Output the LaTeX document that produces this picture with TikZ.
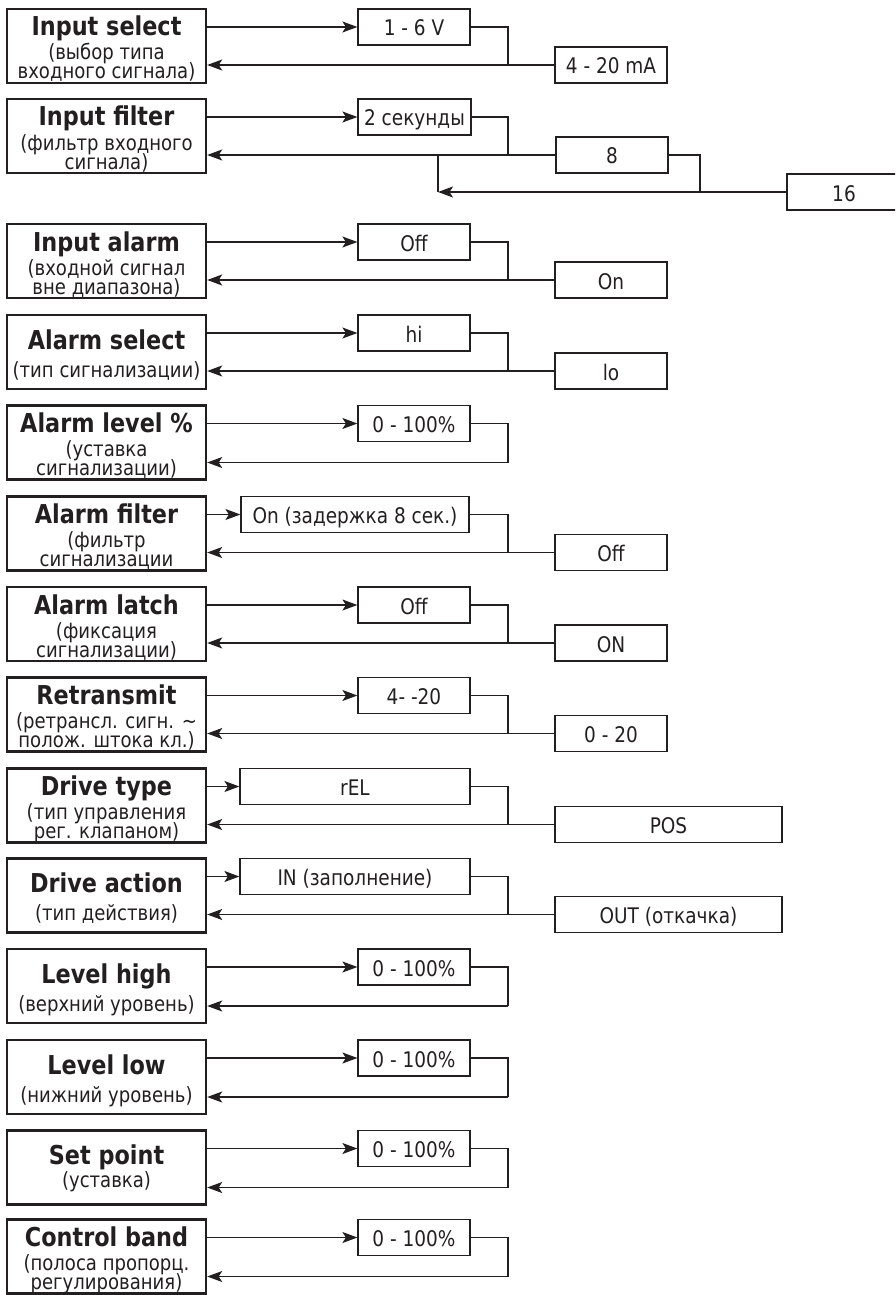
\documentclass[tikz,border=0pt]{standalone}
\usepackage{fontspec}
\setmainfont{DejaVu Sans}[FakeStretch=0.86]
\usetikzlibrary{arrows.meta}
\definecolor{ink}{RGB}{35,31,32}
\def\yA{9}\def\yB{99}\def\yC{224}\def\yD{315}\def\yE{405.5}\def\yF{496.5}\def\yG{587}
\def\yH{677.5}\def\yI{768.5}\def\yJ{858.5}\def\yK{949}\def\yL{1040}\def\yM{1130.5}\def\yN{1219.5}
\begin{document}
\begin{tikzpicture}[x=1pt,y=-1pt,
  lbox/.style={draw=ink,line width=2.4pt,rectangle,minimum width=199pt,minimum height=74pt,inner sep=0pt},
  obox/.style={draw=ink,line width=1.2pt,rectangle,minimum height=36pt,minimum width=112pt,inner sep=0pt,
    text height=18pt,text depth=0pt,text=ink,font=\fontsize{21.5}{22}\selectfont},
  ttl/.style={anchor=base,inner sep=0pt,text=ink,font=\fontsize{26}{27}\selectfont\bfseries},
  sub/.style={anchor=base,inner sep=0pt,text=ink,font=\fontsize{21}{22}\selectfont},
  conn/.style={draw=ink,line width=1.2pt},
  arr/.style={conn,-{Stealth[length=15pt,width=11pt,inset=3.5pt]}}]
\useasboundingbox (0,0) rectangle (895,1295);
\clip (0,0) rectangle (895,1295);

% ---------- Row 1: Input select
\node[lbox] (L1) at (106.5,\yA+37) {};
\node[ttl] (L1t) at (106.5,\yA+27) {Input select};
\node[sub] (L1a) at (106.5,\yA+51) {(выбор типа};
\node[sub] (L1b) at (106.5,\yA+70) {входного сигнала)};
\node[obox] (O1a) at (414,\yA+18) {1 - 6 V};
\node[obox] (O1b) at (611,\yA+56) {4 - 20 mA};
\coordinate (J1) at (508,\yA+56);
\draw[arr] (L1.east |- O1a.west) -- (O1a.west);
\draw[conn] (O1a.east) -| (J1);
\draw[arr] (O1b.west) -- (L1.east |- O1b.west);

% ---------- Row 2: Input filter
\node[lbox] (L2) at (106.5,\yB+37) {};
\node[ttl] (L2t) at (106.5,\yB+27) {Input filter};
\node[sub] (L2a) at (106.5,\yB+51) {(фильтр входного};
\node[sub] (L2b) at (106.5,\yB+70) {сигнала)};
\node[obox,minimum width=113pt] (O2a) at (414.5,\yB+18) {2 секунды};
\node[obox] (O2b) at (612,\yB+56) {8};
\node[obox,minimum width=114pt] (O2c) at (844,\yB+93) {16};
\coordinate (J2) at (508,\yB+56);
\coordinate (K2) at (700,\yB+93);
\coordinate (M2) at (438,\yB+93);
\coordinate (N2) at (438,\yB+56);
\draw[arr] (L2.east |- O2a.west) -- (O2a.west);
\draw[conn] (O2a.east) -| (J2);
\draw[arr] (O2b.west) -- (L2.east |- O2b.west);
\draw[conn] (O2b.east) -| (K2);
\draw[arr] (O2c.west) -- (M2);
\draw[conn] (N2) -- (M2);

% ---------- Row 3: Input alarm
\node[lbox] (L3) at (106.5,\yC+37) {};
\node[ttl] (L3t) at (106.5,\yC+27) {Input alarm};
\node[sub] (L3a) at (106.5,\yC+51) {(входной сигнал};
\node[sub] (L3b) at (106.5,\yC+70) {вне диапазона)};
\node[obox] (O3a) at (414,\yC+18) {Off};
\node[obox] (O3b) at (611,\yC+56) {On};
\coordinate (J3) at (508,\yC+56);
\draw[arr] (L3.east |- O3a.west) -- (O3a.west);
\draw[conn] (O3a.east) -| (J3);
\draw[arr] (O3b.west) -- (L3.east |- O3b.west);

% ---------- Row 4: Alarm select
\node[lbox] (L4) at (106.5,\yD+37) {};
\node[ttl] (L4t) at (106.5,\yD+34) {Alarm select};
\node[sub] (L4a) at (106.5,\yD+62) {(тип сигнализации)};
\node[obox] (O4a) at (414,\yD+18) {hi};
\node[obox] (O4b) at (611,\yD+56) {lo};
\coordinate (J4) at (508,\yD+56);
\draw[arr] (L4.east |- O4a.west) -- (O4a.west);
\draw[conn] (O4a.east) -| (J4);
\draw[arr] (O4b.west) -- (L4.east |- O4b.west);

% ---------- Row 5: Alarm level %
\node[lbox] (L5) at (106.5,\yE+37) {};
\node[ttl] (L5t) at (106.5,\yE+27) {Alarm level \%};
\node[sub] (L5a) at (106.5,\yE+51) {(уставка};
\node[sub] (L5b) at (106.5,\yE+70) {сигнализации)};
\node[obox] (O5a) at (414,\yE+18) {0 - 100\%};
\coordinate (J5) at (508,\yE+57);
\draw[arr] (L5.east |- O5a.west) -- (O5a.west);
\draw[conn] (O5a.east) -| (J5);
\draw[arr] (J5) -- (L5.east |- J5);

% ---------- Row 6: Alarm filter
\node[lbox] (L6) at (106.5,\yF+37) {};
\node[ttl] (L6t) at (106.5,\yF+27) {Alarm filter};
\node[sub] (L6a) at (106.5,\yF+51) {(фильтр};
\node[sub] (L6b) at (106.5,\yF+70) {сигнализации};
\node[obox,minimum width=228pt] (O6a) at (355,\yF+18) {On (задержка 8 сек.)};
\node[obox] (O6b) at (611,\yF+56) {Off};
\coordinate (J6) at (508,\yF+56);
\draw[arr] (L6.east |- O6a.west) -- (O6a.west);
\draw[conn] (O6a.east) -| (J6);
\draw[arr] (O6b.west) -- (L6.east |- O6b.west);

% ---------- Row 7: Alarm latch
\node[lbox] (L7) at (106.5,\yG+37) {};
\node[ttl] (L7t) at (106.5,\yG+27) {Alarm latch};
\node[sub] (L7a) at (106.5,\yG+51) {(фиксация};
\node[sub] (L7b) at (106.5,\yG+70) {сигнализации)};
\node[obox] (O7a) at (414,\yG+18) {Off};
\node[obox] (O7b) at (611,\yG+56) {ON};
\coordinate (J7) at (508,\yG+56);
\draw[arr] (L7.east |- O7a.west) -- (O7a.west);
\draw[conn] (O7a.east) -| (J7);
\draw[arr] (O7b.west) -- (L7.east |- O7b.west);

% ---------- Row 8: Retransmit
\node[lbox] (L8) at (106.5,\yH+37) {};
\node[ttl] (L8t) at (106.5,\yH+27) {Retransmit};
\node[sub] (L8a) at (106.5,\yH+51) {(ретрансл. сигн. \textasciitilde};
\node[sub] (L8b) at (106.5,\yH+70) {полож. штока кл.)};
\node[obox] (O8a) at (414,\yH+18) {4- -20};
\node[obox] (O8b) at (611,\yH+56) {0 - 20};
\coordinate (J8) at (508,\yH+56);
\draw[arr] (L8.east |- O8a.west) -- (O8a.west);
\draw[conn] (O8a.east) -| (J8);
\draw[arr] (O8b.west) -- (L8.east |- O8b.west);

% ---------- Row 9: Drive type
\node[lbox] (L9) at (106.5,\yI+37) {};
\node[ttl] (L9t) at (106.5,\yI+27) {Drive type};
\node[sub] (L9a) at (106.5,\yI+51) {(тип управления};
\node[sub] (L9b) at (106.5,\yI+70) {рег. клапаном)};
\node[obox,minimum width=230pt] (O9a) at (355,\yI+18) {rEL};
\node[obox,minimum width=227pt] (O9b) at (668.5,\yI+56) {POS};
\coordinate (J9) at (508,\yI+56);
\draw[arr] (L9.east |- O9a.west) -- (O9a.west);
\draw[conn] (O9a.east) -| (J9);
\draw[arr] (O9b.west) -- (L9.east |- O9b.west);

% ---------- Row 10: Drive action
\node[lbox] (L10) at (106.5,\yJ+37) {};
\node[ttl] (L10t) at (106.5,\yJ+34) {Drive action};
\node[sub] (L10a) at (106.5,\yJ+62) {(тип действия)};
\node[obox,minimum width=230pt] (O10a) at (355,\yJ+18) {IN (заполнение)};
\node[obox,minimum width=227pt] (O10b) at (668.5,\yJ+56) {OUT (откачка)};
\coordinate (J10) at (508,\yJ+56);
\draw[arr] (L10.east |- O10a.west) -- (O10a.west);
\draw[conn] (O10a.east) -| (J10);
\draw[arr] (O10b.west) -- (L10.east |- O10b.west);

% ---------- Row 11: Level high
\node[lbox] (L11) at (106.5,\yK+37) {};
\node[ttl] (L11t) at (106.5,\yK+34) {Level high};
\node[sub] (L11a) at (106.5,\yK+62) {(верхний уровень)};
\node[obox] (O11a) at (414,\yK+18) {0 - 100\%};
\coordinate (J11) at (508,\yK+57);
\draw[arr] (L11.east |- O11a.west) -- (O11a.west);
\draw[conn] (O11a.east) -| (J11);
\draw[arr] (J11) -- (L11.east |- J11);

% ---------- Row 12: Level low
\node[lbox] (L12) at (106.5,\yL+37) {};
\node[ttl] (L12t) at (106.5,\yL+34) {Level low};
\node[sub] (L12a) at (106.5,\yL+62) {(нижний уровень)};
\node[obox] (O12a) at (414,\yL+18) {0 - 100\%};
\coordinate (J12) at (508,\yL+57);
\draw[arr] (L12.east |- O12a.west) -- (O12a.west);
\draw[conn] (O12a.east) -| (J12);
\draw[arr] (J12) -- (L12.east |- J12);

% ---------- Row 13: Set point
\node[lbox] (L13) at (106.5,\yM+37) {};
\node[ttl] (L13t) at (106.5,\yM+34) {Set point};
\node[sub] (L13a) at (106.5,\yM+57) {(уставка)};
\node[obox] (O13a) at (414,\yM+18) {0 - 100\%};
\coordinate (J13) at (508,\yM+57);
\draw[arr] (L13.east |- O13a.west) -- (O13a.west);
\draw[conn] (O13a.east) -| (J13);
\draw[arr] (J13) -- (L13.east |- J13);

% ---------- Row 14: Control band
\node[lbox] (L14) at (106.5,\yN+37) {};
\node[ttl] (L14t) at (106.5,\yN+27) {Control band};
\node[sub] (L14a) at (106.5,\yN+51) {(полоса пропорц.};
\node[sub] (L14b) at (106.5,\yN+70) {регулирования)};
\node[obox] (O14a) at (414,\yN+18) {0 - 100\%};
\coordinate (J14) at (508,\yN+57);
\draw[arr] (L14.east |- O14a.west) -- (O14a.west);
\draw[conn] (O14a.east) -| (J14);
\draw[arr] (J14) -- (L14.east |- J14);
\end{tikzpicture}
\end{document}
